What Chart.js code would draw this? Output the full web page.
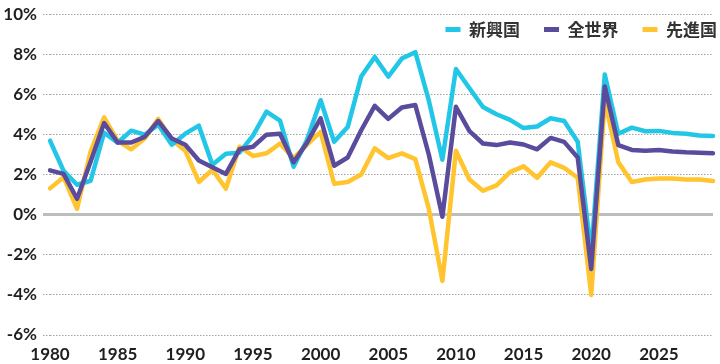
<!DOCTYPE html>
<html><head><meta charset="utf-8">
<script src="https://cdn.jsdelivr.net/npm/chart.js@4/dist/chart.umd.min.js"></script>
<style>html,body{margin:0;padding:0;background:#fff;}#wrap{width:720px;height:364px;}</style>
</head><body><div id="wrap"><canvas id="c" width="720" height="364"></canvas></div>
<script>
const years = [1980,1981,1982,1983,1984,1985,1986,1987,1988,1989,
  1990,1991,1992,1993,1994,1995,1996,1997,1998,1999,
  2000,2001,2002,2003,2004,2005,2006,2007,2008,2009,
  2010,2011,2012,2013,2014,2015,2016,2017,2018,2019,
  2020,2021,2022,2023,2024,2025,2026,2027,2028,2029];
const seriesNames = ['新興国','全世界','先進国'];
const emerging = [3.7,2.2,1.5,1.7,4.1,3.6,4.2,4.0,4.5,3.5,
  4.05,4.45,2.5,3.05,3.1,3.95,5.15,4.7,2.4,3.75,
  5.72,3.65,4.38,6.9,7.88,6.9,7.8,8.12,5.7,2.75,
  7.28,6.32,5.38,5.02,4.74,4.33,4.41,4.82,4.68,3.65,
  -1.9,7.0,4.05,4.35,4.17,4.19,4.09,4.05,3.96,3.94];
const world = [2.22,2.04,0.8,2.65,4.58,3.61,3.61,3.89,4.68,3.81,
  3.5,2.71,2.37,2.04,3.27,3.4,4.0,4.05,2.62,3.6,
  4.82,2.45,2.86,4.22,5.44,4.79,5.36,5.48,3.0,-0.1,
  5.39,4.18,3.56,3.48,3.61,3.51,3.27,3.84,3.64,2.86,
  -2.7,6.4,3.48,3.24,3.2,3.24,3.16,3.12,3.1,3.07];
const advanced = [1.32,1.88,0.3,3.16,4.87,3.69,3.27,3.81,4.79,3.75,
  3.2,1.64,2.25,1.31,3.4,2.94,3.07,3.56,2.83,3.5,
  4.14,1.55,1.64,2.01,3.32,2.83,3.07,2.78,0.3,-3.3,
  3.2,1.76,1.2,1.47,2.13,2.42,1.85,2.62,2.34,1.85,
  -4.0,5.7,2.63,1.64,1.76,1.81,1.81,1.76,1.76,1.69];
const yTicks = [-6,-4,-2,0,2,4,6,8,10];
const colors = ['#22C6E6','#5B4B9C','#FFC42E'];

const numFont = {family:'Lato', size:17, weight:'bold', lineHeight:1};

const legendShift = {
  id:'legendShift',
  beforeLayout(chart){
    if (chart.legend) chart.legend.isHorizontal = () => true;
  },
  afterLayout(chart){
    const lg = chart.legend;
    if(!lg) return;
    lg.top = -3; lg.bottom = lg.top + lg.height;
    const target = 741; const d = target - lg.right;
    lg.left += d; lg.right += d;
  }
};

const mk = (label, data, color, order) => ({
  label, data, borderColor: color, backgroundColor: color, borderWidth: 4.5,
  pointRadius: 0, tension: 0, borderJoinStyle: 'round', borderCapStyle: 'round', order, fill: false
});

const isZero = ctx => ctx.tick && ctx.tick.value === 0;

new Chart(document.getElementById('c'), {
  type: 'line',
  data: {
    labels: years,
    datasets: [
      mk(seriesNames[0], emerging, colors[0], 1),
      mk(seriesNames[1], world, colors[1], 0),
      mk(seriesNames[2], advanced, colors[2], 2)
    ]
  },
  options: {
    responsive: false, animation: false, events: [],
    layout: {padding: {top: 8, right: 7, left: 0, bottom: 0}},
    plugins: {
      tooltip: {enabled: false},
      legend: {
        position: 'chartArea', align: 'end',
        labels: {
          usePointStyle: true, pointStyle: 'line', pointStyleWidth: 15,
          padding: 24, color: '#333',
          font: {family: "'Noto Sans CJK JP'", size: 17, weight: 'bold', lineHeight: 1},
          sort: (a, b) => a.datasetIndex - b.datasetIndex,
          generateLabels: (chart) => Chart.defaults.plugins.legend.labels.generateLabels(chart).map(l => Object.assign(l, {lineWidth: 5, pointStyle: 'line'}))
        }
      }
    },
    scales: {
      x: {
        type: 'category', offset: false,
        grid: {display: false, drawTicks: false},
        border: {display: false},
        ticks: {
          autoSkip: false, maxRotation: 0, minRotation: 0, padding: 11, color: '#1f1f1f', font: numFont,
          callback: function(v, i){ const y = years[i]; return (y % 5 === 0) ? String(y) : null; }
        },
        afterFit: s => { s.height = 29; }
      },
      y: {
        min: yTicks[0], max: yTicks[yTicks.length-1],
        afterBuildTicks: s => { s.ticks = yTicks.map(v => ({value: v})); },
        ticks: {padding: 6, color: '#1f1f1f', font: numFont, callback: v => v + '%'},
        grid: {
          color: ctx => isZero(ctx) ? '#bdbdbd' : '#a3a3a3',
          lineWidth: ctx => isZero(ctx) ? 3 : 1,
          tickLength: 7, drawTicks: true,
          tickColor: ctx => isZero(ctx) ? '#bdbdbd' : '#a3a3a3',
          tickWidth: ctx => isZero(ctx) ? 3 : 1,
          tickBorderDash: ctx => isZero(ctx) ? [] : [1.5, 1.5]
        },
        border: {display: false, dash: ctx => isZero(ctx) ? [] : [1.5, 1.5]},
        afterFit: s => { s.width = 50; }
      }
    }
  },
  plugins: [legendShift]
});
</script>
</body></html>
